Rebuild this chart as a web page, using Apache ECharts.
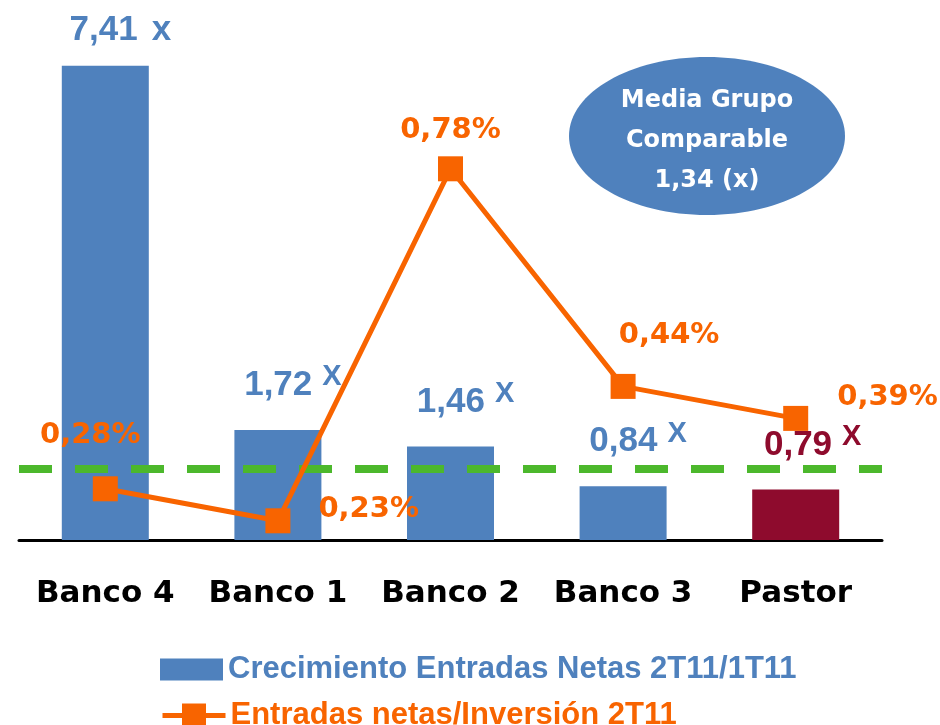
<!DOCTYPE html>
<html><head><meta charset="utf-8">
<script src="https://cdn.jsdelivr.net/npm/echarts@6/dist/echarts.min.js"></script>
<style>html,body{margin:0;padding:0;background:#fff}#c{width:940px;height:725px}</style>
</head><body><div id="c"></div>
<script>
const categories = ['Banco 4', 'Banco 1', 'Banco 2', 'Banco 3', 'Pastor'];
const crecimiento = [7.41, 1.72, 1.46, 0.84, 0.79];
const entradasInversion = [0.28, 0.23, 0.78, 0.44, 0.39];
const mediaLineValue = 1.11;
const seriesNames = ['Crecimiento Entradas Netas 2T11/1T11', 'Entradas netas/Inversión 2T11'];
const bubbleLines = ['Media Grupo', 'Comparable', '1,34 (x)'];

const BLUE = '#4F81BD', RED = '#8E0B2D', ORANGE = '#F86400', GREEN = '#4CB82C';
const fmt = v => v.toFixed(2).replace('.', ',');

const barLabelOffsets = [[15, 0], [15, 0], [15, 0], [15, 0], [17, 0]];
const barData = crecimiento.map((v, i) => {
  const col = i === 4 ? RED : BLUE;
  return {
    value: v,
    itemStyle: { color: col },
    label: {
      show: true, position: 'top', distance: i === 0 ? 18 : 22, offset: barLabelOffsets[i],
      formatter: () => i === 0 ? '{n|' + fmt(v) + '}{x|x}' : '{n|' + fmt(v) + '}{s|X}',
      rich: {
        n: { fontFamily: 'Liberation Sans', fontWeight: 'bold', fontSize: 35, color: col },
        x: { fontFamily: 'Liberation Sans', fontWeight: 'bold', fontSize: 35, color: col, padding: [0, 0, 0, 14] },
        s: { fontFamily: 'Liberation Sans', fontWeight: 'bold', fontSize: 29, color: col, padding: [0, 0, 16, 10] }
      }
    }
  };
});

const lineLabelCfg = [
  { position: 'top', distance: 26, offset: [-15, 0] },
  { position: 'right', distance: 28, offset: [0, -11] },
  { position: 'top', distance: 11, offset: [0, 0] },
  { position: 'top', distance: 24, offset: [46, 0] },
  { position: 'right', distance: 30, offset: [-1, -21] }
];
const lineData = entradasInversion.map((v, i) => ({
  value: v,
  label: Object.assign({
    show: true, formatter: fmt(v) + '%',
    fontFamily: 'DejaVu Sans', fontWeight: 'bold', fontSize: 29, color: ORANGE
  }, lineLabelCfg[i])
}));

const legendText = { fontFamily: 'Liberation Sans', fontWeight: 'bold', fontSize: 31 };

const chart = echarts.init(document.getElementById('c'));
chart.setOption({
  animation: false,
  backgroundColor: '#fff',
  grid: { left: 19, right: 58, top: 28, bottom: 185 },
  legend: [
    {
      left: 155, top: 649, itemWidth: 63, itemHeight: 22,
      data: [{ name: seriesNames[0], icon: 'rect', textStyle: { color: BLUE } }],
      textStyle: legendText
    },
    {
      left: 155, top: 695, itemWidth: 63, itemHeight: 30,
      lineStyle: { width: 5, color: ORANGE },
      data: [{ name: seriesNames[1], textStyle: { color: ORANGE } }],
      textStyle: legendText
    }
  ],
  xAxis: {
    type: 'category', data: categories,
    axisLine: { lineStyle: { color: '#000', width: 3 } },
    axisTick: { show: false },
    axisLabel: { interval: 0, hideOverlap: false, margin: 38, color: '#000', fontFamily: 'DejaVu Sans', fontWeight: 'bold', fontSize: 31 }
  },
  yAxis: [
    { type: 'value', min: 0, max: 8, show: false, splitLine: { show: false } },
    { type: 'value', min: 0.2, max: 1.0, show: false, splitLine: { show: false } }
  ],
  series: [
    {
      name: seriesNames[0], type: 'bar', data: barData, barWidth: 87,
      itemStyle: { color: BLUE },
      markLine: {
        silent: true, symbol: 'none', label: { show: false },
        lineStyle: { color: GREEN, type: [33, 23], width: 8 },
        data: [{ yAxis: mediaLineValue }]
      }
    },
    {
      name: seriesNames[1], type: 'line', yAxisIndex: 1, data: lineData,
      symbol: 'rect', symbolSize: 25,
      lineStyle: { color: ORANGE, width: 5 },
      itemStyle: { color: ORANGE }, z: 5
    }
  ],
  graphic: [
    {
      type: 'ellipse', shape: { cx: 707, cy: 136, rx: 138, ry: 79 },
      style: { fill: BLUE }, z: 10
    },
    {
      type: 'text', x: 707, y: 81, z: 11,
      style: {
        text: bubbleLines.join('\n'), align: 'center', verticalAlign: 'top',
        fill: '#fff', font: 'bold 24px "DejaVu Sans"', lineHeight: 40
      }
    }
  ]
});
</script></body></html>
